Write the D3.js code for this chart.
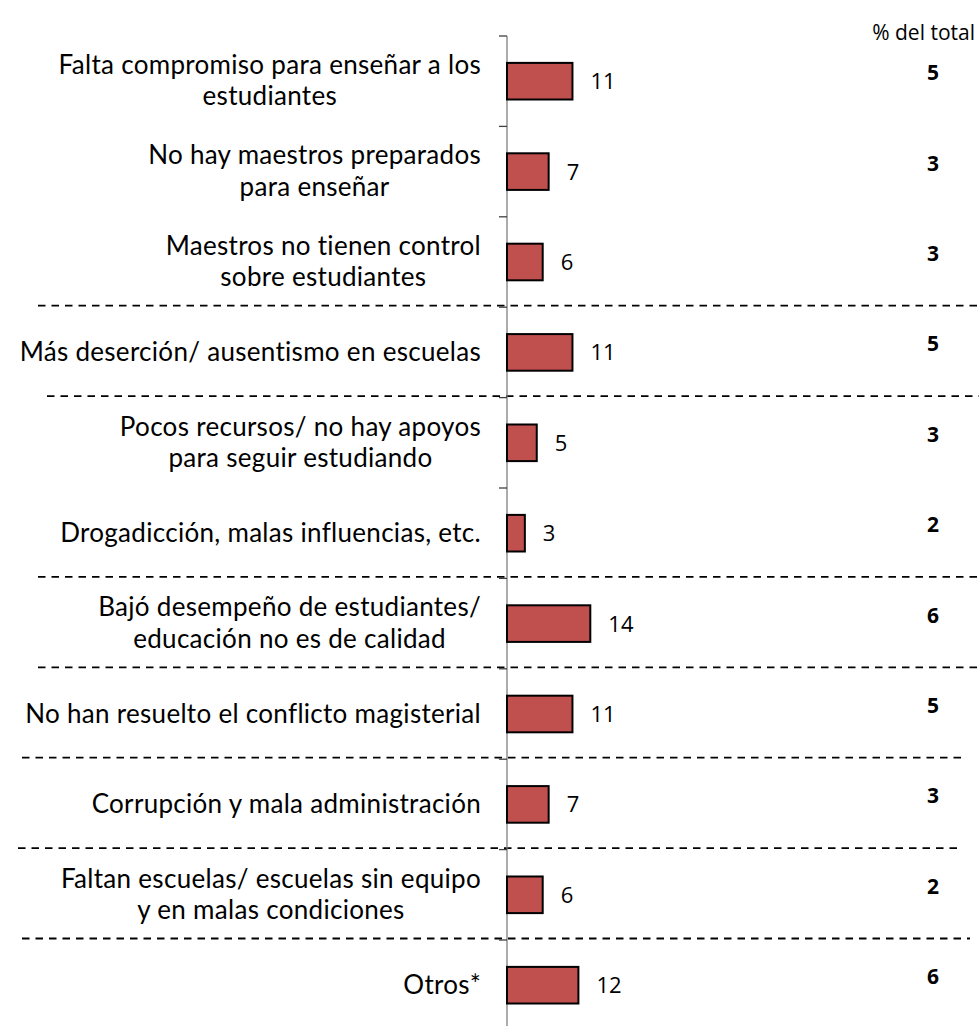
<!DOCTYPE html>
<html><head><meta charset="utf-8">
<script src="https://cdn.jsdelivr.net/npm/d3@7"></script>
<style>html,body{margin:0;padding:0;background:#fff}svg{display:block}</style>
</head><body>
<script>
const categories = [
  ["Falta compromiso para enseñar a los","estudiantes"],
  ["No hay maestros preparados","para enseñar"],
  ["Maestros no tienen control","sobre estudiantes"],
  ["Más deserción/ ausentismo en escuelas"],
  ["Pocos recursos/ no hay apoyos","para seguir estudiando"],
  ["Drogadicción, malas influencias, etc."],
  ["Bajó desempeño de estudiantes/","educación no es de calidad"],
  ["No han resuelto el conflicto magisterial"],
  ["Corrupción y mala administración"],
  ["Faltan escuelas/ escuelas sin equipo","y en malas condiciones"],
  ["Otros*"]
];
const values = [11,7,6,11,5,3,14,11,7,6,12];
const pctTotal = [5,3,3,5,3,2,6,5,3,2,6];
const pctHeader = "% del total";
const separatorsAfter = [2,3,5,6,7,8,9];

(function(){
// layout
const W = 979, H = 1026;
const axisX = 507, topY = 36, band = 90.4;
const sepExtents = {2:[38,979],3:[47,979],5:[38,979],6:[38,979],7:[22,965],8:[18,962],9:[22,970]};
const font = "'Open Sans', Lato, sans-serif";
const labelFont = "Lato, 'Open Sans', sans-serif";

const svg = d3.select("body").append("svg").attr("width",W).attr("height",H);

const idx = d3.range(categories.length);
const y = d3.scaleBand().domain(idx).range([topY, topY + band*categories.length]).paddingInner(0.595).paddingOuter(0.2975);
const yb = d3.scaleBand().domain(idx).range([topY, topY + band*categories.length]);
const x = d3.scaleLinear().domain([0,14]).range([axisX, axisX + 83.3]);

// separators
svg.append("g").selectAll("line").data(separatorsAfter).join("line")
  .attr("x1", d => sepExtents[d][0]).attr("x2", d => sepExtents[d][1])
  .attr("y1", d => yb(d) + band - 1.5).attr("y2", d => yb(d) + band - 1.5)
  .attr("stroke","#000").attr("stroke-width",1.8).attr("stroke-dasharray","7.5,6");

// axis with ticks at band boundaries
const bounds = d3.range(categories.length + 1).map(i => topY + i*band);
const axisG = svg.append("g");
axisG.append("line").attr("x1",axisX).attr("x2",axisX).attr("y1",topY).attr("y2",H+10)
  .attr("stroke","#7f7f7f").attr("stroke-width",1.3);
axisG.selectAll("line.tick").data(bounds).join("line").attr("class","tick")
  .attr("x1",axisX-8).attr("x2",axisX).attr("y1",d=>d).attr("y2",d=>d)
  .attr("stroke","#404040").attr("stroke-width",1.3);

// bars
svg.append("g").selectAll("rect").data(values).join("rect")
  .attr("x", x(0)).attr("y",(d,i)=>y(i)).attr("width",d=>x(d)-x(0)).attr("height",y.bandwidth())
  .attr("fill","#C0504D").attr("stroke","#000").attr("stroke-width",2);

// value labels
svg.append("g").selectAll("text").data(values).join("text")
  .attr("x", d => x(d) + 18).attr("y",(d,i)=>yb(i)+band/2 + 8)
  .attr("font-family",font).attr("font-size",22).attr("fill","#000")
  .text(d=>d);

// category labels (centered block, right edge at 481), one text element per category
const labG = svg.append("g");
categories.forEach((lines,i) => {
  const cy = yb(i) + band/2;
  const lh = 31.5;
  const t = labG.append("text")
    .attr("font-family",labelFont).attr("font-size",26).attr("letter-spacing",0.3).attr("fill","#000")
    .attr("text-anchor","middle");
  const spans = t.selectAll("tspan").data(lines).join("tspan")
    .attr("y",(d,j)=> cy + 8.5 + (j - (lines.length-1)/2)*lh)
    .text(d=>d);
  let maxW = 0;
  spans.each(function(){ maxW = Math.max(maxW, this.getComputedTextLength()); });
  spans.attr("x", 481 - maxW/2);
});

// % del total
svg.append("text").attr("x",975).attr("y",40).attr("text-anchor","end")
  .attr("font-family",font).attr("font-size",21).text(pctHeader);
svg.append("g").selectAll("text").data(pctTotal).join("text")
  .attr("x",933).attr("y",(d,i)=>yb(i)+band/2 - 1).attr("text-anchor","middle")
  .attr("font-family",font).attr("font-weight","bold").attr("font-size",21)
  .text(d=>d);
})();
</script>
</body></html>
